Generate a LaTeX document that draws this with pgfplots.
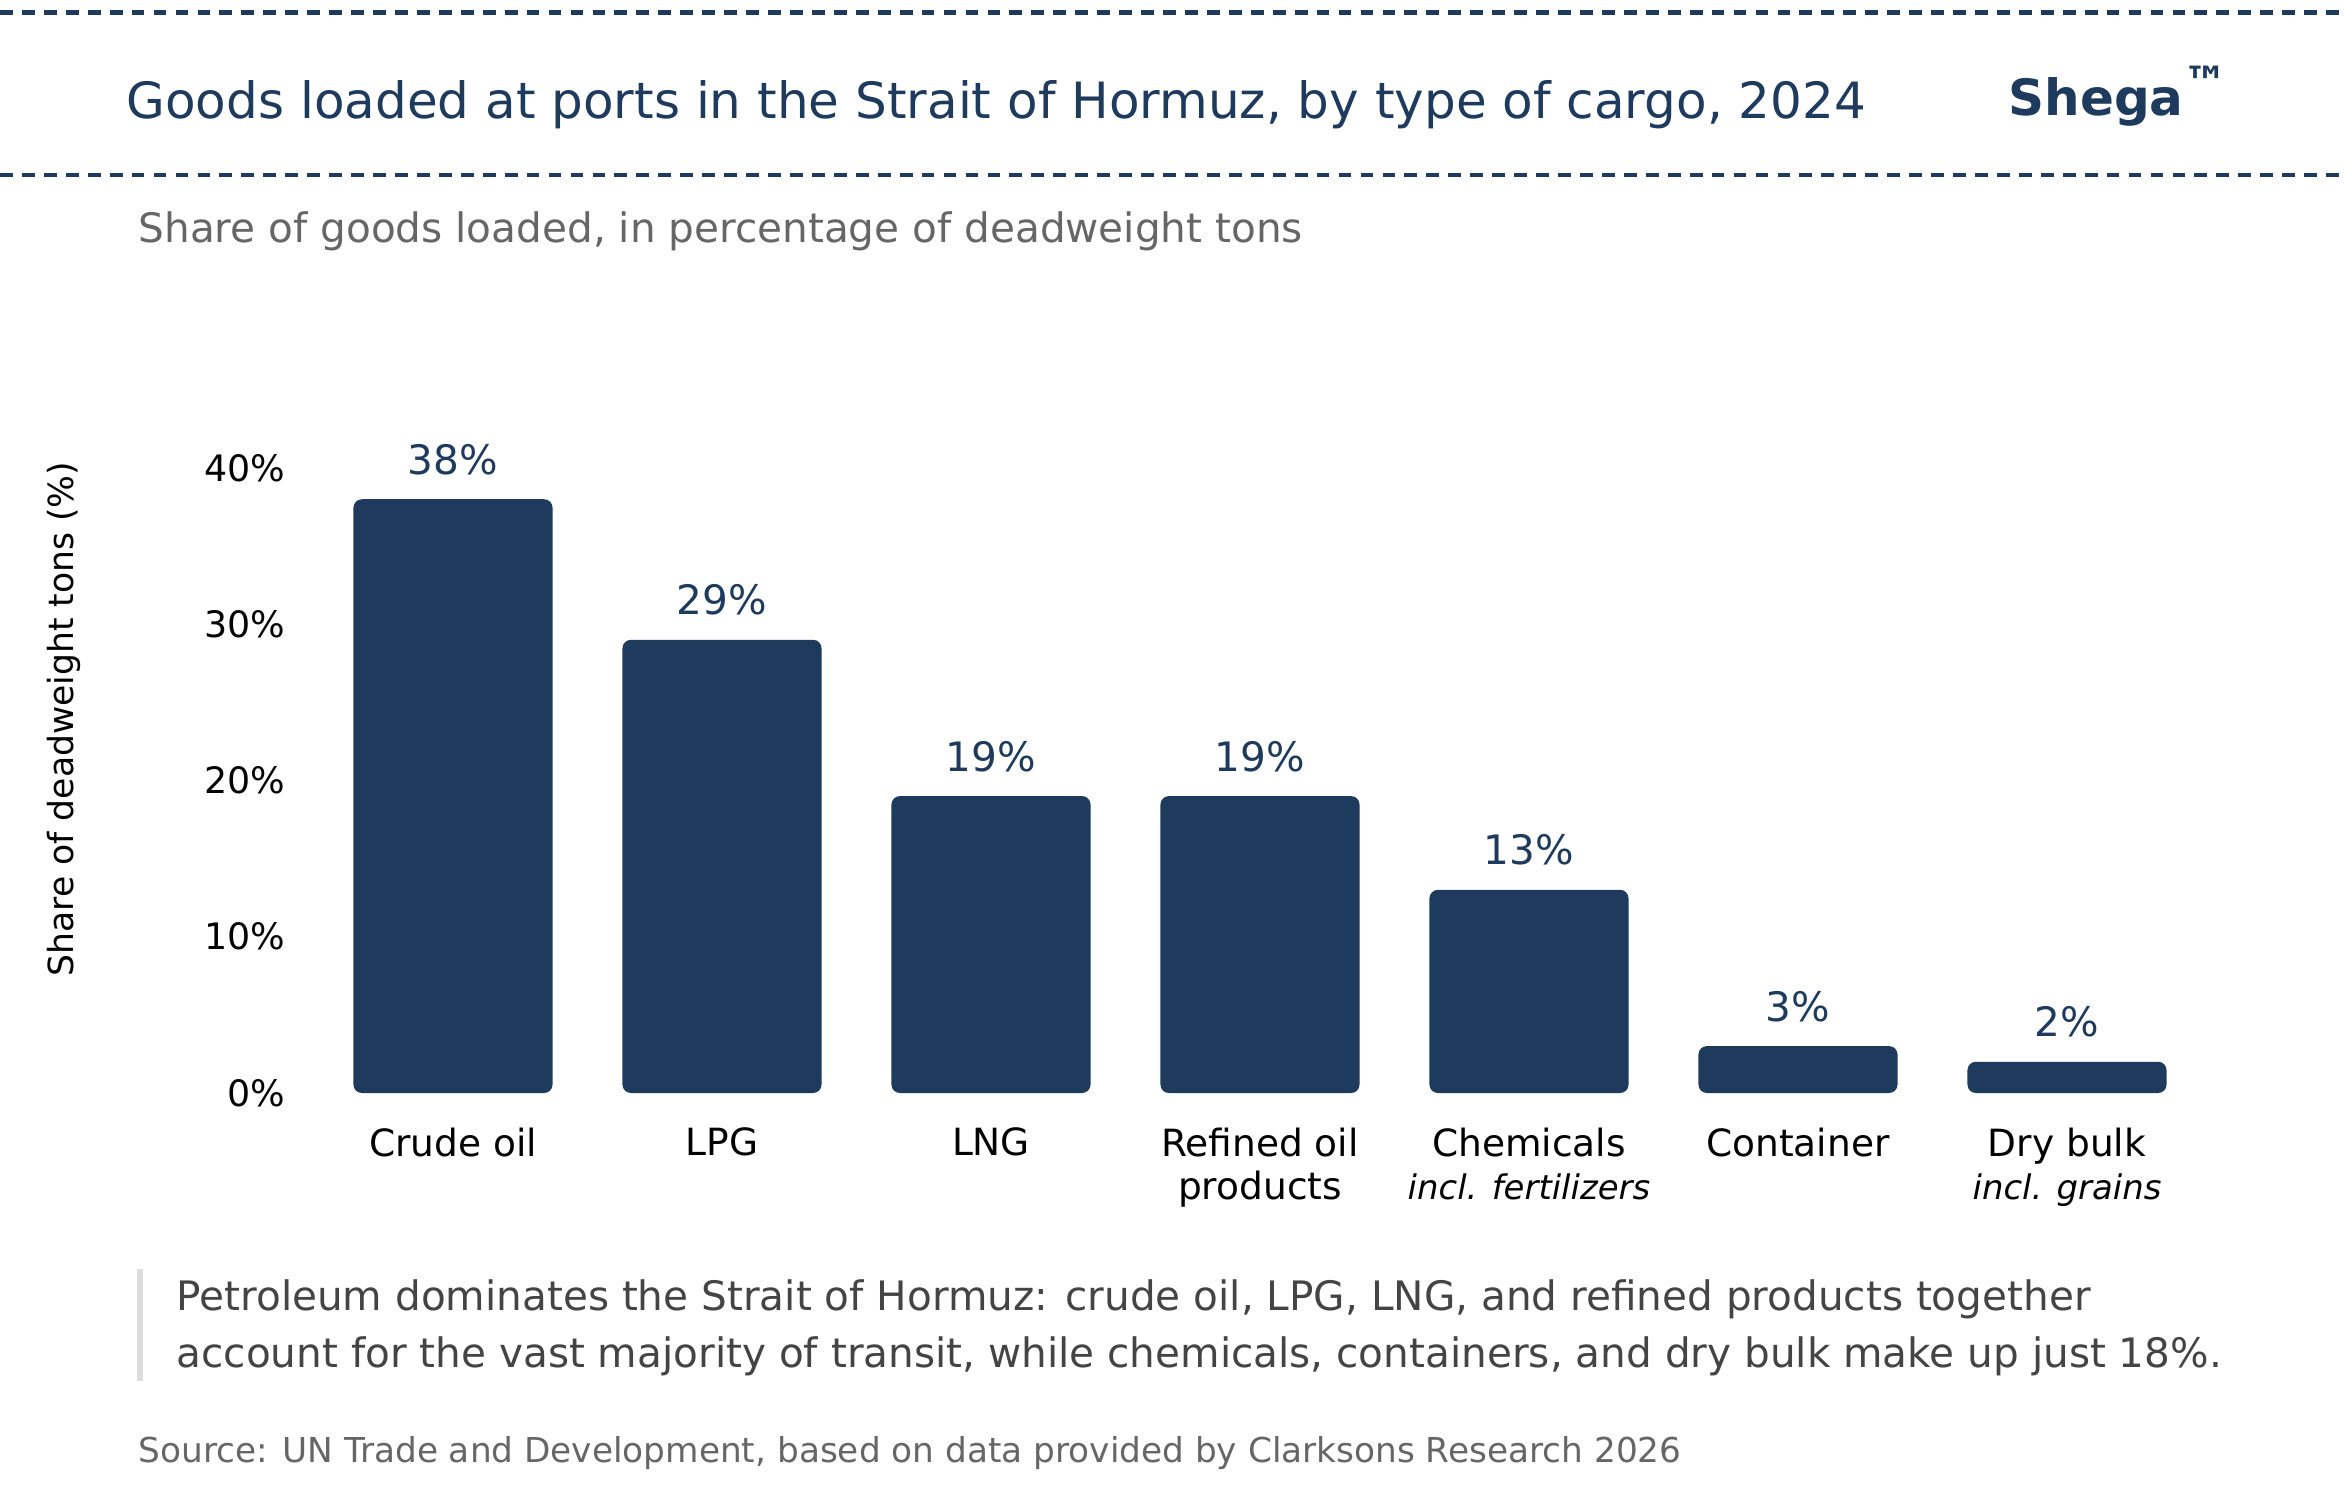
\documentclass[border=0pt]{standalone}
\usepackage{pgfplots}
\pgfplotsset{compat=1.18}
\usepackage{fontspec}
\setmainfont{DejaVu Sans}
\definecolor{navy}{RGB}{30,58,92}
\definecolor{subgray}{RGB}{102,102,102}
\definecolor{txtgray}{RGB}{68,68,68}
\definecolor{bargray}{RGB}{221,221,221}
\begin{document}
\begin{tikzpicture}[x=0.36pt,y=-0.36pt]
\path[use as bounding box] (0,0) rectangle (2344,1500);
\draw[navy, line width=1.7pt, dash pattern=on 4.6pt off 3.3pt] (0,12.3) -- (2344,12.3);
\draw[navy, line width=1.7pt, dash pattern=on 4.6pt off 3.3pt] (0,175) -- (2344,175);
\node[anchor=base west, inner sep=0pt, text=navy, font=\fontsize{18}{21.6}\selectfont] at (126,119) {Goods loaded at ports in the Strait of Hormuz, by type of cargo, 2024};
\node[anchor=base west, inner sep=0pt, text=navy, font=\fontsize{18}{21.6}\selectfont\bfseries] at (2008,116) {Shega};
\node[anchor=north west, inner sep=0pt, text=navy, font=\fontsize{16}{18}\selectfont\bfseries] at (2183,66) {™};
\node[anchor=base west, inner sep=0pt, text=subgray, font=\fontsize{14.6}{17.5}\selectfont] at (138,243) {Share of goods loaded, in percentage of deadweight tons};
\node[rotate=90, inner sep=0pt, text=black, font=\fontsize{12.45}{14.9}\selectfont] at (64,719) {Share of deadweight tons (\%)};
\draw[bargray, line width=2.16pt] (140,1269) -- (140,1381);
\node[anchor=base west, inner sep=0pt, text=txtgray, font=\fontsize{14.6}{17.5}\selectfont] at (176,1310) {Petroleum dominates the Strait of Hormuz: crude oil, LPG, LNG, and refined products together};
\node[anchor=base west, inner sep=0pt, text=txtgray, font=\fontsize{14.6}{17.5}\selectfont] at (176,1367) {account for the vast majority of transit, while chemicals, containers, and dry bulk make up just 18\%.};
\node[anchor=base west, inner sep=0pt, text=subgray, font=\fontsize{12.35}{14.8}\selectfont] at (138,1462) {Source: UN Trade and Development, based on data provided by Clarksons Research 2026};
\begin{axis}[
  at={(104.976pt,-393.48pt)}, anchor=south west,
  scale only axis, width=697.25pt, height=267.19pt,
  ybar, bar width=0.74, enlargelimits=false,
  xmin=-0.6, xmax=6.6, ymin=0, ymax=47.5,
  axis x line*=bottom, axis y line*=left,
  axis line style={draw=none}, major tick length=0pt, tick style={draw=none},
  xtick={0,1,2,3,4,5,6},
  xticklabels={{Crude oil},{LPG},{LNG},{Refined oil\\products},{Chemicals\\{\fontsize{12.2}{15.6}\selectfont\itshape incl. fertilizers}},{Container},{Dry bulk\\{\fontsize{12.2}{15.6}\selectfont\itshape incl. grains}}},
  ytick={0,10,20,30,40},
  yticklabels={0\%,10\%,20\%,30\%,40\%},
  xticklabel style={font=\fontsize{13.5}{15.6}\selectfont, align=center, anchor=north, inner sep=0pt, yshift=-12.3pt, text=black},
  yticklabel style={font=\fontsize{13.1}{15.6}\selectfont, anchor=east, inner sep=0pt, xshift=-2pt, text=black},
  nodes near coords={\pgfmathprintnumber[assume math mode=true]{\pgfplotspointmeta}\%},
  nodes near coords style={font=\fontsize{14.6}{17.5}\selectfont, text=navy, anchor=base, inner sep=0pt, yshift=9pt},
  clip=false,
]
\addplot[fill=navy, draw=none, rounded corners=3pt] coordinates {(0,38) (1,29) (2,19) (3,19) (4,13) (5,3) (6,2)};
\end{axis}
\end{tikzpicture}
\end{document}
